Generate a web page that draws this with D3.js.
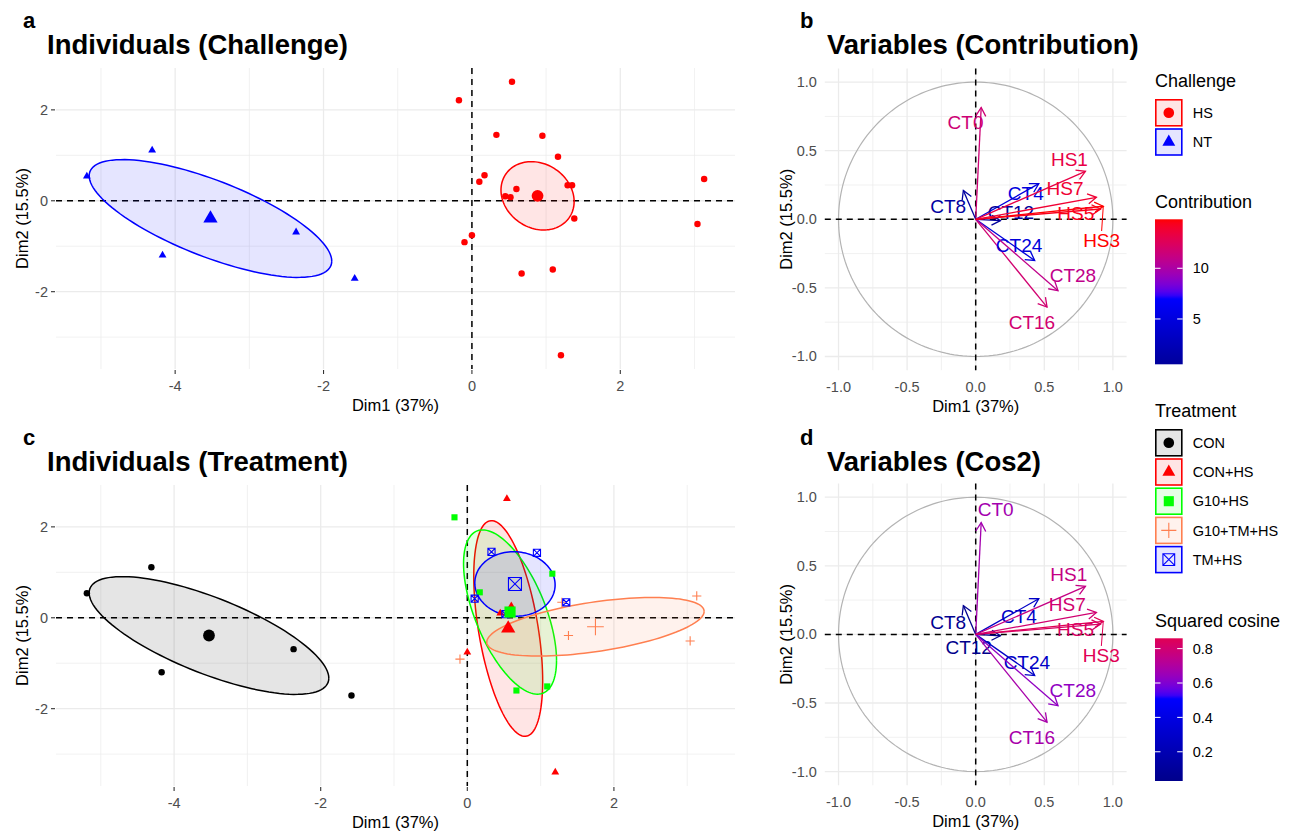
<!DOCTYPE html>
<html>
<head>
<meta charset="utf-8">
<script src="https://cdn.jsdelivr.net/npm/d3@7"></script>
<style>
  body { margin: 0; background: #fff; }
  text { font-family: "Liberation Sans", Arial, sans-serif; }
</style>
</head>
<body>
<svg id="canvas" width="1296" height="831"></svg>
<script>
// ---------- data ----------
// individuals, PCA coordinates
const indDim1 = [-4.31, -5.19, -2.37, -4.17, -1.58,
  0.54, -0.175, 0.33, 0.95, 1.16, 0.17, 0.10, 0.60, 1.29, 1.35,
  0.45, 0.52, 1.38, 0.00, -0.10, 1.09, 0.67, 1.20, 3.13, 3.04]
const indDim2 = [1.11, 0.54, -0.69, -1.20, -1.71,
  2.62, 2.21, 1.45, 1.43, 0.97, 0.56, 0.42, 0.26, 0.34, 0.34,
  0.10, 0.08, -0.39, -0.76, -0.91, -1.51, -1.60, -3.40, 0.48, -0.51]
const indChallenge = ['NT', 'NT', 'NT', 'NT', 'NT',
  'HS', 'HS', 'HS', 'HS', 'HS', 'HS', 'HS', 'HS', 'HS', 'HS',
  'HS', 'HS', 'HS', 'HS', 'HS', 'HS', 'HS', 'HS', 'HS', 'HS']
const indTreatment = ['CON', 'CON', 'CON', 'CON', 'CON',
  'CON+HS', 'G10+HS', 'TM+HS', 'TM+HS', 'G10+HS', 'G10+HS', 'TM+HS', 'CON+HS', 'G10+TM+HS', 'TM+HS',
  'CON+HS', 'TM+HS', 'G10+TM+HS', 'CON+HS', 'G10+TM+HS', 'G10+HS', 'G10+HS', 'CON+HS', 'G10+TM+HS', 'G10+TM+HS']

const challengeGroups = ['HS', 'NT']
const treatmentGroups = ['CON', 'CON+HS', 'G10+HS', 'G10+TM+HS', 'TM+HS']

// variables
const varNames = ['CT0', 'CT4', 'CT8', 'CT12', 'CT16', 'CT24', 'CT28', 'HS1', 'HS3', 'HS5', 'HS7']
const varDim1 = [0.04, 0.46, -0.09, 0.18, 0.52, 0.43, 0.60, 0.80, 0.93, 0.91, 0.88]
const varDim2 = [0.815, 0.26, 0.21, -0.01, -0.64, -0.30, -0.52, 0.35, 0.095, 0.075, 0.16]
const varContrib = [11.6, 4.85, 0.9, 0.53, 11.8, 4.75, 10.9, 13.2, 14.83, 14.4, 13.8]
const varCos2 = [0.67, 0.28, 0.05, 0.03, 0.68, 0.28, 0.63, 0.76, 0.86, 0.83, 0.80]

const contribTicks = [5, 10]
const cos2Ticks = [0.2, 0.4, 0.6, 0.8]

// ---------- styling / layout ----------
const challengeColors = { 'HS': '#FF0000', 'NT': '#0000FF' }
const challengeShapes = { 'HS': 'circle', 'NT': 'triangle' }
const treatmentColors = { 'CON': '#000000', 'CON+HS': '#FF0000', 'G10+HS': '#00FF00', 'G10+TM+HS': '#FF7F50', 'TM+HS': '#0000FF' }
const treatmentShapes = { 'CON': 'circle', 'CON+HS': 'triangle', 'G10+HS': 'square', 'G10+TM+HS': 'plus', 'TM+HS': 'boxX' }

// repelled label placement (data units), per variable panel
const labelContrib = [[-0.074, 0.705], [0.365, 0.19], [-0.20, 0.097], [0.257, 0.055], [0.41, -0.753], [0.316, -0.191],
  [0.709, -0.41], [0.683, 0.437], [0.918, -0.151], [0.73, 0.046], [0.651, 0.229]]
const labelCos2 = [[0.146, 0.911], [0.315, 0.135], [-0.20, 0.092], [-0.051, -0.096], [0.41, -0.75], [0.373, -0.205],
  [0.708, -0.41], [0.679, 0.438], [0.916, -0.15], [0.728, 0.038], [0.668, 0.22]]
const segmentLabels = ['HS3']

const svg = d3.select('#canvas')
const GRID = '#ebebeb'
const TICKTXT = '#4d4d4d'

// ---------- helpers ----------
function symbolPath(shape, s) {
  if (shape === 'circle') return d3.symbol(d3.symbolCircle, Math.PI * (0.95 * s) ** 2)()
  if (shape === 'triangle') {
    const a = 2.3 * s, h = a * Math.sqrt(3) / 2
    return `M0,${-2 * h / 3}L${a / 2},${h / 3}L${-a / 2},${h / 3}Z`
  }
  if (shape === 'square') { const q = 0.9 * s; return `M${-q},${-q}H${q}V${q}H${-q}Z` }
  if (shape === 'plus') { const q = 1.35 * s; return `M${-q},0H${q}M0,${-q}V${q}` }
  if (shape === 'boxX') { const q = 1.05 * s; return `M${-q},${-q}H${q}V${q}H${-q}ZM${-q},${-q}L${q},${q}M${q},${-q}L${-q},${q}` }
}
const strokeShape = sh => sh === 'plus' || sh === 'boxX'

function drawSymbol(g, shape, color, s, x, y) {
  const p = g.append('path').attr('d', symbolPath(shape, s)).attr('transform', `translate(${x},${y})`)
  if (strokeShape(shape)) p.attr('fill', 'none').attr('stroke', color).attr('stroke-width', 1.1)
  else p.attr('fill', color)
}

// 95% confidence ellipse of the group barycentre
function confEllipse(px, py) {
  const n = px.length, mx = d3.mean(px), my = d3.mean(py)
  let sxx = 0, syy = 0, sxy = 0
  for (let i = 0; i < n; i++) {
    sxx += (px[i] - mx) ** 2; syy += (py[i] - my) ** 2; sxy += (px[i] - mx) * (py[i] - my)
  }
  sxx /= (n - 1) * n; syy /= (n - 1) * n; sxy /= (n - 1) * n
  const r = Math.sqrt(-2 * Math.log(0.05))
  const a = Math.sqrt(sxx), b = sxy / a, c = Math.sqrt(Math.max(syy - b * b, 0))
  return d3.range(0, 121).map(i => {
    const t = 2 * Math.PI * i / 120
    return [mx + r * a * Math.cos(t), my + r * (b * Math.cos(t) + c * Math.sin(t))]
  })
}

function gradient2(ext, mid) {
  const half = Math.max(mid - ext[0], ext[1] - mid)
  const lo = d3.interpolateLab('darkblue', 'blue'), hi = d3.interpolateLab('blue', 'red')
  return v => {
    const t = 0.5 + (v - mid) / (2 * half)
    return t < 0.5 ? lo(Math.max(t, 0) * 2) : hi(Math.min((t - 0.5) * 2, 1))
  }
}

function panelTitle(letter, title, lx, ly, tx) {
  svg.append('text').attr('x', lx).attr('y', ly).attr('font-size', 22).attr('font-weight', 'bold').text(letter)
  svg.append('text').attr('x', tx).attr('y', ly + 25.5).attr('font-size', 27.5).attr('font-weight', 'bold').text(title)
}

function axes(g, x, y, xt, yt, fmt, withTicks) {
  const [x0, x1] = x.range(), [y1, y0] = y.range()
  g.selectAll('.xt').data(xt).enter().append('text')
    .attr('x', d => x(d)).attr('y', y1 + 21.5).attr('text-anchor', 'middle')
    .attr('font-size', 14.5).attr('fill', TICKTXT).text(fmt)
  g.selectAll('.yt').data(yt).enter().append('text')
    .attr('x', x0 - 8).attr('y', d => y(d) + 5).attr('text-anchor', 'end')
    .attr('font-size', 14.5).attr('fill', TICKTXT).text(fmt)
  if (withTicks) {
    xt.forEach(d => g.append('line').attr('x1', x(d)).attr('x2', x(d)).attr('y1', y1 + 1).attr('y2', y1 + 5)
      .attr('stroke', '#333').attr('stroke-width', 1.1))
    yt.forEach(d => g.append('line').attr('y1', y(d)).attr('y2', y(d)).attr('x1', x0 - 5).attr('x2', x0 - 1)
      .attr('stroke', '#333').attr('stroke-width', 1.1))
  }
  g.append('text').attr('x', (x0 + x1) / 2).attr('y', y1 + 42).attr('text-anchor', 'middle')
    .attr('font-size', 16.5).text('Dim1 (37%)')
  const cy = (y0 + y1) / 2, lx = x0 - (withTicks ? 28 : 33)
  g.append('text').attr('transform', `translate(${lx},${cy}) rotate(-90)`).attr('text-anchor', 'middle')
    .attr('font-size', 16.5).text('Dim2 (15.5%)')
}

function grid(g, x, y, xt, yt, xStep, yStep) {
  const [x0, x1] = x.range(), [y1, y0] = y.range()
  const minor = (ticks, step, sc) => {
    const dom = sc.domain()
    return d3.range(ticks[0] - step / 2 - step * 5, ticks[ticks.length - 1] + step * 5, step)
      .filter(v => v >= dom[0] && v <= dom[1])
  }
  minor(xt, xStep, x).forEach(v => g.append('line').attr('x1', x(v)).attr('x2', x(v)).attr('y1', y0).attr('y2', y1)
    .attr('stroke', GRID).attr('stroke-width', 0.7))
  minor(yt, yStep, y).forEach(v => g.append('line').attr('y1', y(v)).attr('y2', y(v)).attr('x1', x0).attr('x2', x1)
    .attr('stroke', GRID).attr('stroke-width', 0.7))
  xt.forEach(v => g.append('line').attr('x1', x(v)).attr('x2', x(v)).attr('y1', y0).attr('y2', y1)
    .attr('stroke', GRID).attr('stroke-width', 1.3))
  yt.forEach(v => g.append('line').attr('y1', y(v)).attr('y2', y(v)).attr('x1', x0).attr('x2', x1)
    .attr('stroke', GRID).attr('stroke-width', 1.3))
}

function zeroLines(g, x, y) {
  const [x0, x1] = x.range(), [y1, y0] = y.range()
  g.append('line').attr('x1', x0).attr('x2', x1).attr('y1', y(0)).attr('y2', y(0))
    .attr('stroke', '#000').attr('stroke-width', 1.5).attr('stroke-dasharray', '6,5')
  g.append('line').attr('x1', x(0)).attr('x2', x(0)).attr('y1', y0).attr('y2', y1)
    .attr('stroke', '#000').attr('stroke-width', 1.5).attr('stroke-dasharray', '6,5')
}

// ---------- individuals panel ----------
function individualsPanel(box, groupOf, groups, colors, shapes) {
  const g = svg.append('g')
  const ell = groups.map(k => {
    const idx = d3.range(indDim1.length).filter(i => groupOf[i] === k)
    return { key: k, idx, pts: confEllipse(idx.map(i => indDim1[i]), idx.map(i => indDim2[i])) }
  })
  const allX = indDim1.concat(...ell.map(e => e.pts.map(p => p[0])))
  const allY = indDim2.concat(...ell.map(e => e.pts.map(p => p[1])))
  const ex = d3.extent(allX), ey = d3.extent(allY)
  const px = (ex[1] - ex[0]) * 0.05, py = (ey[1] - ey[0]) * 0.05
  const x = d3.scaleLinear().domain([ex[0] - px, ex[1] + px]).range(box.x)
  const y = d3.scaleLinear().domain([ey[0] - py, ey[1] + py]).range([box.y[1], box.y[0]])
  const xt = x.ticks(5), yt = y.ticks(4)
  grid(g, x, y, xt, yt, xt[1] - xt[0], yt[1] - yt[0])
  zeroLines(g, x, y)
  const line = d3.line().x(d => x(d[0])).y(d => y(d[1]))
  ell.forEach(e => {
    g.append('path').attr('d', line(e.pts)).attr('fill', colors[e.key]).attr('fill-opacity', 0.1)
      .attr('stroke', colors[e.key]).attr('stroke-width', 1.5)
  })
  ell.forEach(e => e.idx.forEach(i =>
    drawSymbol(g, shapes[e.key], colors[e.key], 3.4, x(indDim1[i]), y(indDim2[i]))))
  ell.forEach(e => drawSymbol(g, shapes[e.key], colors[e.key], 6.2,
    x(d3.mean(e.idx, i => indDim1[i])), y(d3.mean(e.idx, i => indDim2[i]))))
  axes(g, x, y, xt, yt, d => String(d), true)
}

// ---------- variables panel ----------
function variablesPanel(box, values, mid, labels) {
  const g = svg.append('g')
  const x = d3.scaleLinear().domain([-1.1, 1.1]).range(box.x)
  const y = d3.scaleLinear().domain([-1.1, 1.1]).range([box.y[1], box.y[0]])
  const ticks = [-1, -0.5, 0, 0.5, 1]
  grid(g, x, y, ticks, ticks, 0.5, 0.5)
  const color = gradient2(d3.extent(values), mid)
  const circ = d3.range(0, 201).map(i => [Math.cos(2 * Math.PI * i / 200), Math.sin(2 * Math.PI * i / 200)])
  g.append('path').attr('d', d3.line().x(d => x(d[0])).y(d => y(d[1]))(circ))
    .attr('fill', 'none').attr('stroke', '#b3b3b3').attr('stroke-width', 1.2)
  zeroLines(g, x, y)
  varNames.forEach((nm, i) => {
    const c = color(values[i])
    const tx = x(varDim1[i]), ty = y(varDim2[i]), ox = x(0), oy = y(0)
    g.append('line').attr('x1', ox).attr('y1', oy).attr('x2', tx).attr('y2', ty)
      .attr('stroke', c).attr('stroke-width', 1.3)
    const ang = Math.atan2(ty - oy, tx - ox), L = 10, da = Math.PI / 6
    g.append('path')
      .attr('d', `M${tx - L * Math.cos(ang - da)},${ty - L * Math.sin(ang - da)}L${tx},${ty}L${tx - L * Math.cos(ang + da)},${ty - L * Math.sin(ang + da)}`)
      .attr('fill', 'none').attr('stroke', c).attr('stroke-width', 1.3)
    const lx = x(labels[i][0]), ly = y(labels[i][1])
    if (segmentLabels.includes(nm)) {
      g.append('line').attr('x1', tx).attr('y1', ty).attr('x2', lx).attr('y2', ly - 9)
        .attr('stroke', c).attr('stroke-width', 1)
    }
    g.append('text').attr('x', lx).attr('y', ly + 6.8).attr('text-anchor', 'middle')
      .attr('font-size', 19).attr('fill', c).text(nm)
  })
  axes(g, x, y, ticks, ticks, d => d.toFixed(1), false)
  return color
}

// ---------- legends ----------
function keyLegend(x, y, title, groups, colors, shapes) {
  const g = svg.append('g')
  g.append('text').attr('x', x).attr('y', y).attr('font-size', 18).text(title)
  groups.forEach((k, i) => {
    const ky = y + 12.5 + i * 29.2
    g.append('rect').attr('x', x + 0.8).attr('y', ky + 0.8).attr('width', 26).attr('height', 26)
      .attr('fill', colors[k]).attr('fill-opacity', 0.1).attr('stroke', colors[k]).attr('stroke-width', 1.6)
    drawSymbol(g, shapes[k], colors[k], 5.6, x + 13.8, ky + 13.8)
    g.append('text').attr('x', x + 37.7).attr('y', ky + 19).attr('font-size', 14.5).text(k)
  })
}

function colorbar(x, y0, y1, title, values, color, ticks, id) {
  const g = svg.append('g')
  const ext = d3.extent(values)
  g.append('text').attr('x', x).attr('y', y0 - 11.5).attr('font-size', 18).text(title)
  const grad = svg.append('defs').append('linearGradient').attr('id', id)
    .attr('x1', 0).attr('x2', 0).attr('y1', 1).attr('y2', 0)
  d3.range(0, 41).forEach(k => grad.append('stop').attr('offset', k / 40)
    .attr('stop-color', color(ext[0] + (ext[1] - ext[0]) * k / 40)))
  g.append('rect').attr('x', x).attr('y', y0).attr('width', 27.7).attr('height', y1 - y0).attr('fill', `url(#${id})`)
  const s = d3.scaleLinear().domain(ext).range([y1, y0])
  ticks.forEach(t => {
    g.append('line').attr('x1', x).attr('x2', x + 5.5).attr('y1', s(t)).attr('y2', s(t)).attr('stroke', '#fff').attr('stroke-width', 1)
    g.append('line').attr('x1', x + 22.2).attr('x2', x + 27.7).attr('y1', s(t)).attr('y2', s(t)).attr('stroke', '#fff').attr('stroke-width', 1)
    g.append('text').attr('x', x + 37.7).attr('y', s(t) + 5.2).attr('font-size', 14.5).text(String(t))
  })
}

// ---------- compose ----------
panelTitle('a', 'Individuals (Challenge)', 23, 28, 47)
panelTitle('b', 'Variables (Contribution)', 800, 28, 827)
panelTitle('c', 'Individuals (Treatment)', 23, 445, 47)
panelTitle('d', 'Variables (Cos2)', 800, 445, 827)

individualsPanel({ x: [56, 735], y: [68, 369] }, indChallenge, challengeGroups, challengeColors, challengeShapes)
individualsPanel({ x: [56, 735], y: [485, 786] }, indTreatment, treatmentGroups, treatmentColors, treatmentShapes)
const contribColor = variablesPanel({ x: [824.8, 1126.6], y: [68.4, 370.2] }, varContrib, 7.1, labelContrib)
const cos2Color = variablesPanel({ x: [824.8, 1126.6], y: [483.5, 785.3] }, varCos2, 0.51, labelCos2)

keyLegend(1155, 86.5, 'Challenge', challengeGroups, challengeColors, challengeShapes)
colorbar(1155, 219.3, 364.3, 'Contribution', varContrib, contribColor, contribTicks, 'gc')
keyLegend(1155, 416.5, 'Treatment', treatmentGroups, treatmentColors, treatmentShapes)
colorbar(1155, 638.3, 781, 'Squared cosine', varCos2, cos2Color, cos2Ticks, 'gq')
</script>
</body>
</html>
